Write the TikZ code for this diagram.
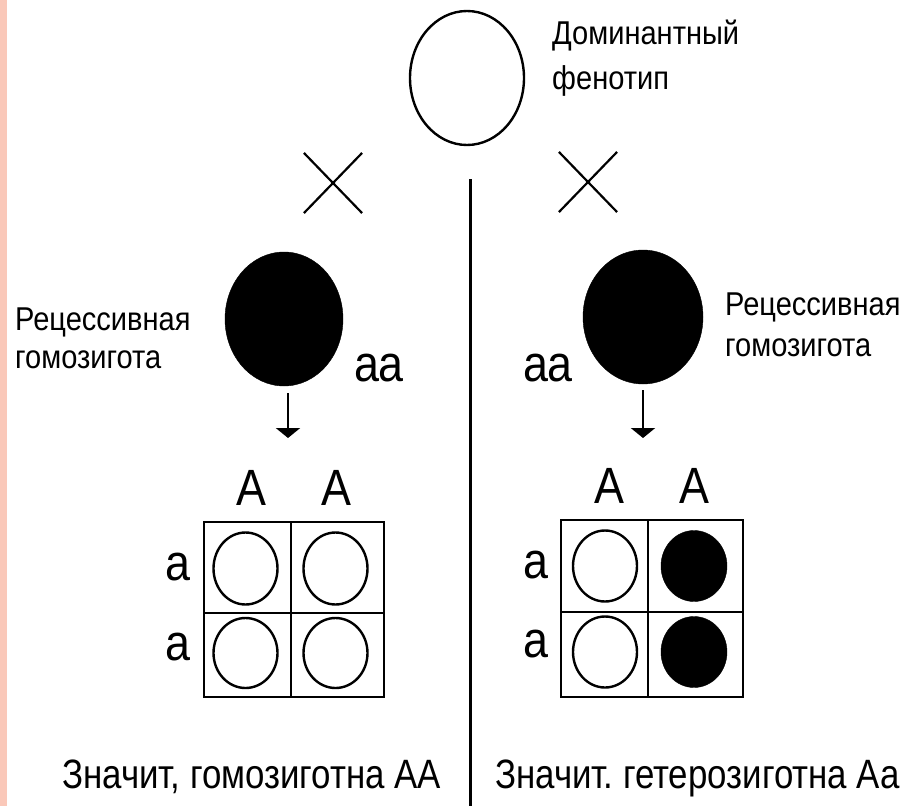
\documentclass[tikz,border=0pt]{standalone}
\usepackage{fontspec}
\setmainfont{Liberation Sans}
\newfontfamily\narrowfont{Liberation Sans}[FakeStretch=0.88]
\newfontfamily\narrowerfont{Liberation Sans}[FakeStretch=0.85]
\usetikzlibrary{shapes.geometric,shapes.misc,arrows.meta}
\definecolor{peach}{RGB}{250,200,185}
\frenchspacing
\begin{document}
\begin{tikzpicture}[x=1pt,y=-1pt,
  ln/.style={line width=2.6pt},
  opencirc/.style={ellipse,draw,line width=2.4pt,inner sep=0pt,fill=white},
  fullcirc/.style={ellipse,draw,fill=black,inner sep=0pt},
  lbl/.style={inner sep=0pt,font=\narrowfont\fontsize{33}{38}\selectfont},
  gen/.style={inner sep=0pt,font=\narrowfont\fontsize{51}{58}\selectfont},
  bottomtxt/.style={inner sep=0pt,font=\narrowerfont\fontsize{41}{46}\selectfont},
  crossmark/.style={cross out,draw,line width=2.2pt,minimum width=56pt,minimum height=58pt,inner sep=0pt},
  arr/.style={line width=2.6pt,-{Triangle[width=24pt,length=10pt]}},
]
\useasboundingbox (0,0) rectangle (924,806);
\fill[white] (0,0) rectangle (924,806);
\fill[peach] (0,0) rectangle (7,806);

% top parent
\node[opencirc,minimum width=114pt,minimum height=134pt] (dom) at (467,78) {};
\node[lbl,anchor=base west] (domA) at (552,44) {Доминантный};
\node[lbl,anchor=base west] (domB) at (552,89) {фенотип};

% crosses
\node[crossmark] (xl) at (333,183) {};
\node[crossmark] (xr) at (588,182) {};

% divider
\coordinate (vtop) at (470,179);
\coordinate (vbot) at (470,806);
\draw[line width=3pt] (vtop) -- (vbot);

% recessive parents
\node[fullcirc,minimum width=118pt,minimum height=134pt] (bl) at (284,319) {};
\node[fullcirc,minimum width=120pt,minimum height=134pt] (br) at (643,317) {};
\node[lbl,anchor=base west] (rlA) at (15,330) {Рецессивная};
\node[lbl,anchor=base west] (rlB) at (15,368) {гомозигота};
\node[lbl,anchor=base west] (rrA) at (725,315) {Рецессивная};
\node[lbl,anchor=base west] (rrB) at (725,356) {гомозигота};
\node[gen,anchor=base] (aal) at (379,381) {aa};
\node[gen,anchor=base] (aar) at (548,381) {aa};

% arrows
\coordinate (al0) at (288,393);
\coordinate (al1) at (288,438);
\coordinate (ar0) at (643,390);
\coordinate (ar1) at (643,438);
\draw[arr] (al0) -- (al1);
\draw[arr] (ar0) -- (ar1);

% left Punnett square
\draw[ln] (204,522) rectangle (384,697);
\draw[ln] (291,522) -- (291,697);
\draw[ln] (204,613) -- (384,613);
\node[gen,anchor=base] (lA1) at (251,505) {A};
\node[gen,anchor=base] (lA2) at (336,505) {A};
\node[gen,anchor=base] (la1) at (178,580) {a};
\node[gen,anchor=base] (la2) at (178,660) {a};
\node[opencirc,minimum width=64pt,minimum height=72pt] (l11) at (245.5,568.5) {};
\node[opencirc,minimum width=64pt,minimum height=72pt] (l12) at (335.5,568.5) {};
\node[opencirc,minimum width=64pt,minimum height=70pt] (l21) at (245.5,653) {};
\node[opencirc,minimum width=64pt,minimum height=70pt] (l22) at (335.5,653) {};

% right Punnett square
\draw[ln] (561,520) rectangle (743,697);
\draw[ln] (648,520) -- (648,697);
\draw[ln] (561,612) -- (743,612);
\node[gen,anchor=base] (rA1) at (609,503) {A};
\node[gen,anchor=base] (rA2) at (694,503) {A};
\node[gen,anchor=base] (ra1) at (536,578) {a};
\node[gen,anchor=base] (ra2) at (536,657) {a};
\node[opencirc,minimum width=64pt,minimum height=71pt] (r11) at (605,566) {};
\node[fullcirc,minimum width=66pt,minimum height=71pt] (r12) at (694,566) {};
\node[opencirc,minimum width=64pt,minimum height=71pt] (r21) at (605,652) {};
\node[fullcirc,minimum width=66pt,minimum height=71pt] (r22) at (694,652) {};

% conclusions
\node[bottomtxt,anchor=base west] (cl) at (62,788) {Значит, гомозиготна АА};
\node[bottomtxt,anchor=base west] (cr) at (495,788) {Значит. гетерозиготна Аа};
\end{tikzpicture}
\end{document}
